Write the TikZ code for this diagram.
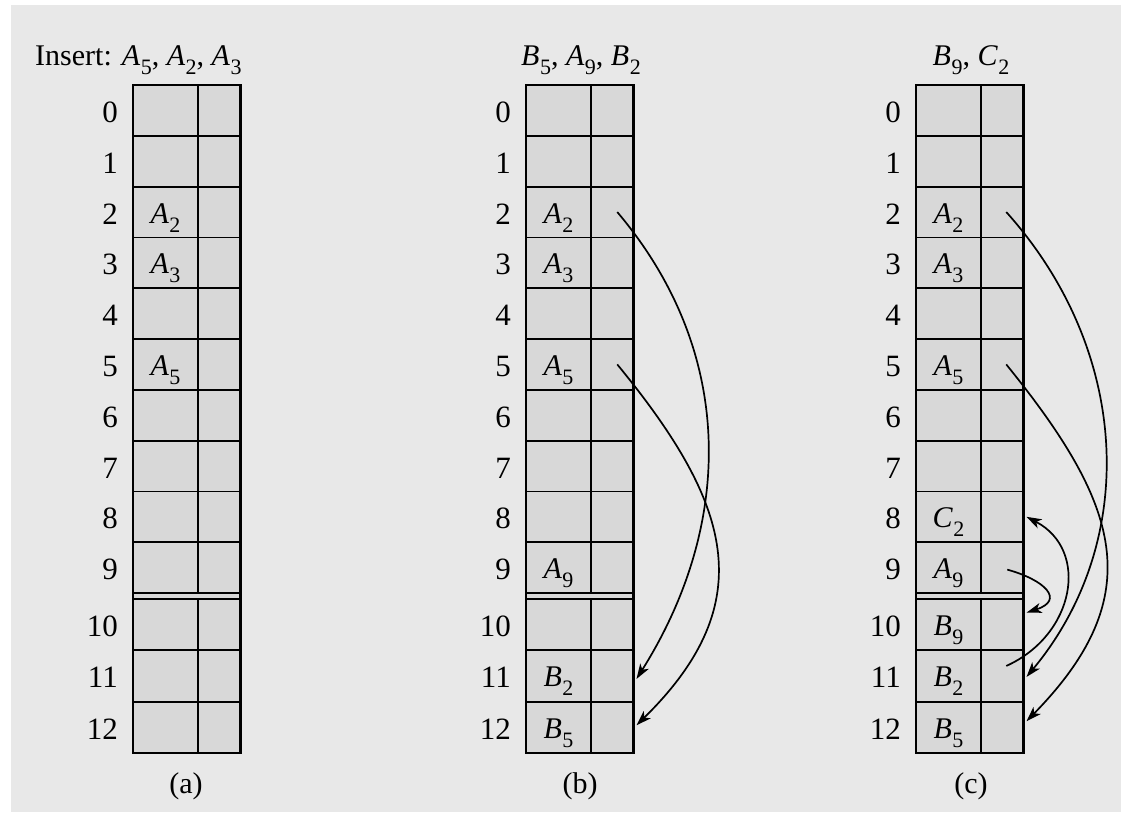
\documentclass[tikz,border=0pt]{standalone}
\usepackage{fontspec}
\setmainfont{Liberation Serif}
\usetikzlibrary{arrows.meta,calc}
\definecolor{bggray}{RGB}{232,232,232}
\definecolor{cellgray}{RGB}{216,216,216}
\newcommand\sx[2]{\textit{#1}\kern0.5pt\raisebox{-0.3em}{\fontsize{22}{22}\selectfont #2}}
\tikzset{
  cell/.style={draw=black, fill=cellgray, line width=1.8pt, inner sep=0pt, outer sep=0pt},
  idx/.style={inner sep=0pt, anchor=base east, font=\fontsize{31}{36}\selectfont},
  entry/.style={inner sep=0pt, text height=22pt, text depth=0pt},
  arr/.style={line width=1.7pt, -{Stealth[length=15pt,width=10pt,inset=4pt]}},
}
\begin{document}
\begin{tikzpicture}[x=1pt,y=-1pt,font=\fontsize{30}{36}\selectfont]
\useasboundingbox (0,0) rectangle (1121,812);
\fill[bggray] (11,5) rectangle (1121,812);
\foreach \t/\L in {a/133,b/526,c/916}{
  \fill[cellgray] (\L,85) rectangle ({\L+107.5},753);
  \foreach \i in {0,...,12}{
    \pgfmathsetmacro\tp{\i<10 ? 85+50.8*\i : 599+51.3*(\i-10)}
    \pgfmathsetmacro\hh{\i<10 ? 50.8 : 51.3}
    \node[cell, minimum width=65pt, minimum height=\hh pt, anchor=north west] (\t\i L) at (\L,\tp) {};
    \node[cell, minimum width=42.5pt, minimum height=\hh pt, anchor=north west] (\t\i R) at ({\L+65},\tp) {};
    \node[idx] (\t\i n) at ($(\t\i L.west)+(-15,12)$) {\i};
  }
  \draw[line width=2.3pt] (\t0L.north west) rectangle (\t12R.south east);
}
% headers
\node[inner sep=0pt, anchor=base west] (ha) at (35,65) {Insert: \sx A5, \sx A2, \sx A3};
\node[inner sep=0pt, anchor=base] (hb) at (581,65) {\sx B5, \sx A9, \sx B2};
\node[inner sep=0pt, anchor=base] (hc) at (971,65) {\sx B9, \sx C2};
% captions
\node[inner sep=0pt, anchor=base] (capa) at (186,793) {(a)};
\node[inner sep=0pt, anchor=base] (capb) at (580,793) {(b)};
\node[inner sep=0pt, anchor=base] (capc) at (971,793) {(c)};
% entries (a)
\node[entry] (ta2) at (a2L) {\sx A2};
\node[entry] (ta3) at (a3L) {\sx A3};
\node[entry] (ta5) at (a5L) {\sx A5};
% entries (b)
\node[entry] (tb2) at (b2L) {\sx A2};
\node[entry] (tb3) at (b3L) {\sx A3};
\node[entry] (tb5) at (b5L) {\sx A5};
\node[entry] (tb9) at (b9L) {\sx A9};
\node[entry] (tb11) at (b11L) {\sx B2};
\node[entry] (tb12) at (b12L) {\sx B5};
% entries (c)
\node[entry] (tc2) at (c2L) {\sx A2};
\node[entry] (tc3) at (c3L) {\sx A3};
\node[entry] (tc5) at (c5L) {\sx A5};
\node[entry] (tc8) at (c8L) {\sx C2};
\node[entry] (tc9) at (c9L) {\sx A9};
\node[entry] (tc10) at (c10L) {\sx B9};
\node[entry] (tc11) at (c11L) {\sx B2};
\node[entry] (tc12) at (c12L) {\sx B5};
% arrows (b)
\draw[arr] ($(b2R.center)+(5,0)$) .. controls (738,355) and (732,527) .. ($(b11R.east)+(3,3)$);
\draw[arr] ($(b5R.center)+(5,0)$) .. controls (730,502) and (763,601) .. ($(b12R.east)+(3,-2)$);
% arrows (c)
\draw[arr] ($(c2R.center)+(4,0)$) .. controls (1130,350) and (1140,540) .. ($(c11R.east)+(3,1)$);
\draw[arr] ($(c5R.center)+(4,0)$) .. controls (1120,505) and (1150,595) .. ($(c12R.east)+(3,-6)$);
\draw[arr] ($(c11R.center)+(4,-10)$) .. controls (1075,635) and (1090,550) .. ($(c8R.east)+(3,0)$);
\draw[arr] ($(c9R.center)+(5,2)$) .. controls (1045,580) and (1065,600) .. ($(c10R.east)+(3,-12)$);
\end{tikzpicture}
\end{document}
